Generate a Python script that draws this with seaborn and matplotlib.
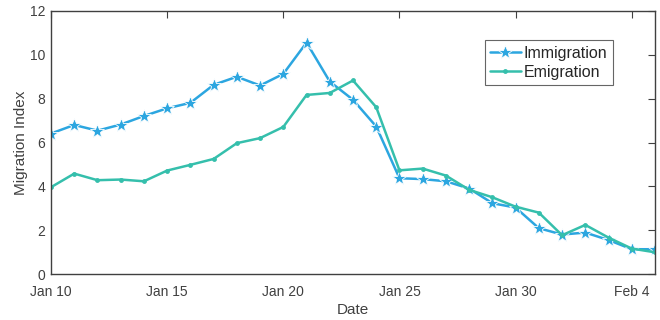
import numpy as np
import pandas as pd
import matplotlib
matplotlib.use("Agg")
import matplotlib.pyplot as plt
import matplotlib.dates as mdates
import seaborn as sns

dates = pd.date_range("2020-01-10", "2020-02-05", freq="D")
immigration = [6.41, 6.80, 6.54, 6.82, 7.21, 7.56, 7.81, 8.63, 9.00, 8.60,
               9.13, 10.56, 8.78, 7.95, 6.73, 4.37, 4.33, 4.23, 3.90, 3.23,
               3.03, 2.09, 1.80, 1.89, 1.55, 1.13, 1.13]
emigration = [3.96, 4.58, 4.28, 4.31, 4.23, 4.72, 4.98, 5.25, 5.97, 6.20,
              6.71, 8.17, 8.26, 8.83, 7.61, 4.73, 4.81, 4.49, 3.84, 3.50,
              3.07, 2.80, 1.77, 2.24, 1.66, 1.16, 0.99]
tick_dates = ["2020-01-10", "2020-01-15", "2020-01-20", "2020-01-25",
              "2020-01-30", "2020-02-04"]
tick_labels = ["Jan 10", "Jan 15", "Jan 20", "Jan 25", "Jan 30", "Feb 4"]

df = pd.DataFrame({"Date": dates, "Immigration": immigration,
                   "Emigration": emigration})

sns.set_theme(style="white")
plt.rcParams["font.family"] = ["Liberation Sans", "DejaVu Sans"]

fig = plt.figure(figsize=(6.6, 3.2), dpi=100)
ax = fig.add_axes([51 / 660, 1 - 274 / 320, (655 - 51) / 660, (274 - 11) / 320])

blue = "#2ca6e0"
teal = "#35bfac"
sns.lineplot(data=df, x="Date", y="Immigration", ax=ax, color=blue,
             marker="*", markersize=10, markeredgewidth=0.6, linewidth=1.8,
             label="Immigration")
sns.lineplot(data=df, x="Date", y="Emigration", ax=ax, color=teal,
             marker="o", markersize=3.5, markeredgewidth=0, linewidth=1.8,
             label="Emigration")

ax.set_xlim(pd.Timestamp("2020-01-10"), pd.Timestamp("2020-02-05"))
ax.set_ylim(0, 12)
ax.set_yticks([0, 2, 4, 6, 8, 10, 12])
ax.set_xticks(pd.to_datetime(tick_dates))
ax.set_xticklabels(tick_labels)

tc = "#404040"
for s in ax.spines.values():
    s.set_color(tc)
    s.set_linewidth(1.0)
    s.set_visible(True)
ax.tick_params(direction="in", length=5, width=0.8, colors=tc, labelsize=10,
               top=True, right=True, labeltop=False, labelright=False,
               labelcolor=tc, pad=4)
ax.tick_params(axis="x", pad=8)
ax.set_xlabel("Date", fontsize=11, color=tc)
ax.xaxis.set_label_coords(0.5, -0.11)
ax.set_ylabel("Migration Index", fontsize=11, color=tc)
ax.yaxis.set_label_coords(-0.038, 0.5)

leg = ax.legend(loc="upper left", bbox_to_anchor=(0.718, 0.89), fontsize=11.5,
                frameon=True, fancybox=False, edgecolor="#404040",
                handlelength=1.9, handletextpad=0.2, borderpad=0.35,
                labelspacing=0.25, borderaxespad=0)
leg.get_frame().set_linewidth(0.8)

fig.savefig("out.png", dpi=100)
